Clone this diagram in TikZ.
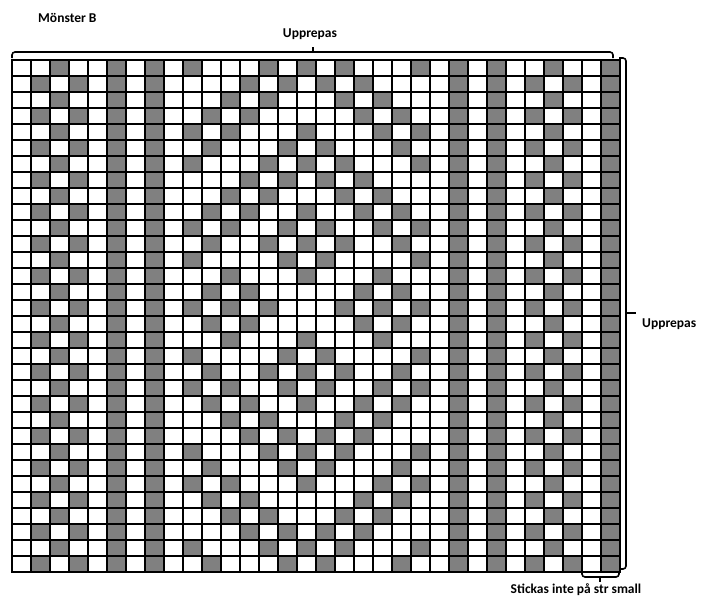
\documentclass[tikz,border=0pt]{standalone}
\usepackage{fontspec}
\setmainfont{Carlito}
\usetikzlibrary{positioning,calc}
\definecolor{knitgray}{HTML}{808080}

\begin{document}
\begin{tikzpicture}[
    x=1pt, y=-1pt,
    txt/.style={font=\fontsize{13.5}{16}\selectfont\bfseries, inner sep=0pt},
    darkcell/.style={fill=knitgray},
    gridline/.style={line width=2.2pt, line cap=rect},
    bracket/.style={line width=1.6pt, rounded corners=3pt}
]
\useasboundingbox (0,0) rectangle (701,597);

% Labels
\node[txt, anchor=base west] (title) at (38,23) {Mönster B};
\node[txt, anchor=base] (toprep) at (310,37) {Upprepas};
\node[txt, anchor=base west] (siderep) at (642,327) {Upprepas};
\node[txt, anchor=base] (small) at (576,593.5) {Stickas inte på str small};

% Chart, 32 x 32 stitches
\begin{scope}[shift={(12pt,-60pt)}, x=19pt, y=-16pt]
\fill[white] (0,0) rectangle (32,32);
% dark stitches of the left half, mirrored about column 16
\foreach \r/\cols in {
    1/{3,6,8,10,14,16}, 2/{2,4,6,8,13,15}, 3/{3,6,8,12,14}, 4/{2,4,6,8,11,13},
    5/{3,6,8,10,12,16}, 6/{2,4,6,8,11,15}, 7/{3,6,8,10,14,16}, 8/{2,4,6,8,13,15},
    9/{3,6,8,12,14}, 10/{2,4,6,8,11,13,16}, 11/{3,6,8,10,12,15}, 12/{2,4,6,8,11,14,16},
    13/{3,6,8,10,15}, 14/{2,4,6,8,12,16}, 15/{3,6,8,11,13}, 16/{2,4,6,8,10,12,14},
    17/{3,6,8,11,13}, 18/{2,4,6,8,12,16}, 19/{3,6,8,10,15}, 20/{2,4,6,8,11,14,16},
    21/{3,6,8,10,12,15}, 22/{2,4,6,8,11,13,16}, 23/{3,6,8,12,14}, 24/{2,4,6,8,13,15},
    25/{3,6,8,10,14,16}, 26/{2,4,6,8,11,15}, 27/{3,6,8,10,12,16}, 28/{2,4,6,8,11,13},
    29/{3,6,8,12,14}, 30/{2,4,6,8,13,15}, 31/{3,6,8,10,14,16}, 32/{2,4,6,8,11,15}} {
  \foreach \c in \cols {
    \fill[darkcell] (\c-1,\r-1) rectangle (\c,\r);
    \fill[darkcell] (31-\c,\r-1) rectangle (32-\c,\r);
  }
}
% last column
\fill[darkcell] (31,0) rectangle (32,32);
% grid
\foreach \i in {0,...,32} {
  \draw[gridline] (\i,0) -- (\i,32);
  \draw[gridline] (0,\i) -- (32,\i);
}
\end{scope}

% Brackets
\draw[bracket] (12,58) -- (12,52) -- (613,52) -- (613,58);
\draw[bracket] (313,52) -- (313,47);
\draw[bracket] (619,58) -- (626,58) -- (626,569) -- (620,569);
\draw[bracket] (626,313) -- (636,313);
\draw[bracket] (582,572) -- (582,577) -- (619,577) -- (619,572);
\draw[bracket] (600,577) -- (600,582);

\end{tikzpicture}
\end{document}
